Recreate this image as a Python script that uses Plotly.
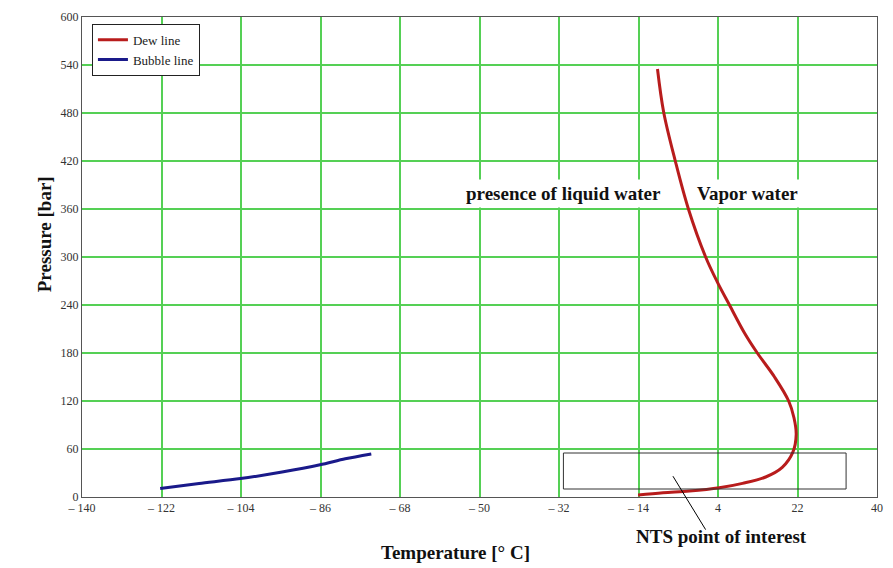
import plotly.graph_objects as go

# Dew line (temperature °C, pressure bar)
dew_T = [-9.7, -8.3, -5.67, -2.7, 1.2, 4.0, 6.6, 9.9, 12.9, 16.8, 20.0, 21.2, 21.7, 20.95, 18.55, 14.8, 9.55, 4.3, -2.45, -8.45, -14.1]
dew_P = [535, 481, 420, 360, 300, 267, 240, 206, 180, 150, 120, 99, 78, 56, 37, 25, 17, 11.5, 7.4, 5.3, 2.5]

# Bubble line
bub_T = [-122.3, -113.5, -104.1, -94.7, -86.1, -80.4, -74.5]
bub_P = [10.7, 16.9, 23.0, 31.2, 40.2, 47.7, 53.8]

x_ticks = [-140, -122, -104, -86, -68, -50, -32, -14, 4, 22, 40]
x_ticktext = ["– 140", "– 122", "– 104", "– 86", "– 68", "– 50", "– 32", "– 14", "4", "22", "40"]
y_ticks = [0, 60, 120, 180, 240, 300, 360, 420, 480, 540, 600]

# NTS region of interest
nts_T = [-31, 33]
nts_P = [10, 55]
nts_point = (-6.2, 26)

FONT = "Liberation Serif"
GRID = "#55d055"
BOLD = dict(family=FONT, size=19, color="#111")

fig = go.Figure()
fig.add_trace(go.Scatter(x=dew_T, y=dew_P, mode="lines", name="Dew line",
                         line=dict(color="#b81c1c", width=3, shape="spline", smoothing=1.0)))
fig.add_trace(go.Scatter(x=bub_T, y=bub_P, mode="lines", name="Bubble line",
                         line=dict(color="#1a1a8a", width=3, shape="spline", smoothing=0.8)))

fig.add_shape(type="rect", x0=nts_T[0], x1=nts_T[1], y0=nts_P[0], y1=nts_P[1],
              xref="x", yref="y", line=dict(color="#333333", width=1))
fig.add_shape(type="line", xref="x", yref="paper",
              x0=nts_point[0], y0=nts_point[1] / 600, x1=1.2, y1=-0.068,
              line=dict(color="black", width=1))

fig.add_annotation(x=4.7, y=-0.082, xref="x", yref="paper", text="<b>NTS point of interest</b>",
                   showarrow=False, yanchor="middle", font=BOLD)
fig.add_annotation(x=-31, y=379, xref="x", yref="y", text="<b>presence of liquid water</b>",
                   showarrow=False, font=BOLD, bgcolor="white", borderpad=3)
fig.add_annotation(x=10.6, y=379, xref="x", yref="y", text="<b>Vapor water</b>",
                   showarrow=False, font=BOLD, bgcolor="white", borderpad=3)
fig.add_annotation(x=-0.0625, y=0.672, xref="paper", yref="paper", text="<b>Pressure [bar]</b>",
                   showarrow=False, textangle=-90, font=BOLD)
fig.add_annotation(x=0.47, y=-0.115, xref="paper", yref="paper", text="<b>Temperature [° C]</b>",
                   showarrow=False, yanchor="middle", font=BOLD)

fig.update_xaxes(range=[-140, 40], tickvals=x_ticks, ticktext=x_ticktext,
                 showgrid=True, gridcolor=GRID, gridwidth=1.6, zeroline=False,
                 showline=True, linecolor="#555", linewidth=1, mirror=True,
                 tickfont=dict(family=FONT, size=12, color="#333"), ticks="")
fig.update_yaxes(range=[0, 600], tickvals=y_ticks,
                 showgrid=True, gridcolor=GRID, gridwidth=1.6, zeroline=False,
                 showline=True, linecolor="#555", linewidth=1, mirror=True,
                 tickfont=dict(family=FONT, size=12, color="#333"), ticks="")

fig.update_layout(
    width=893, height=568,
    margin=dict(l=82, r=11, t=10, b=71),
    plot_bgcolor="white", paper_bgcolor="white",
    font=dict(family=FONT),
    legend=dict(x=0.0125, y=0.986, xanchor="left", yanchor="top",
                bordercolor="#222", borderwidth=1, bgcolor="white",
                font=dict(family=FONT, size=13, color="#222"),
                tracegroupgap=0, itemwidth=30),
)

fig.write_html("out.html", config={"displayModeBar": False},
               post_script="document.body.style.margin='0';document.body.style.overflow='hidden';")
